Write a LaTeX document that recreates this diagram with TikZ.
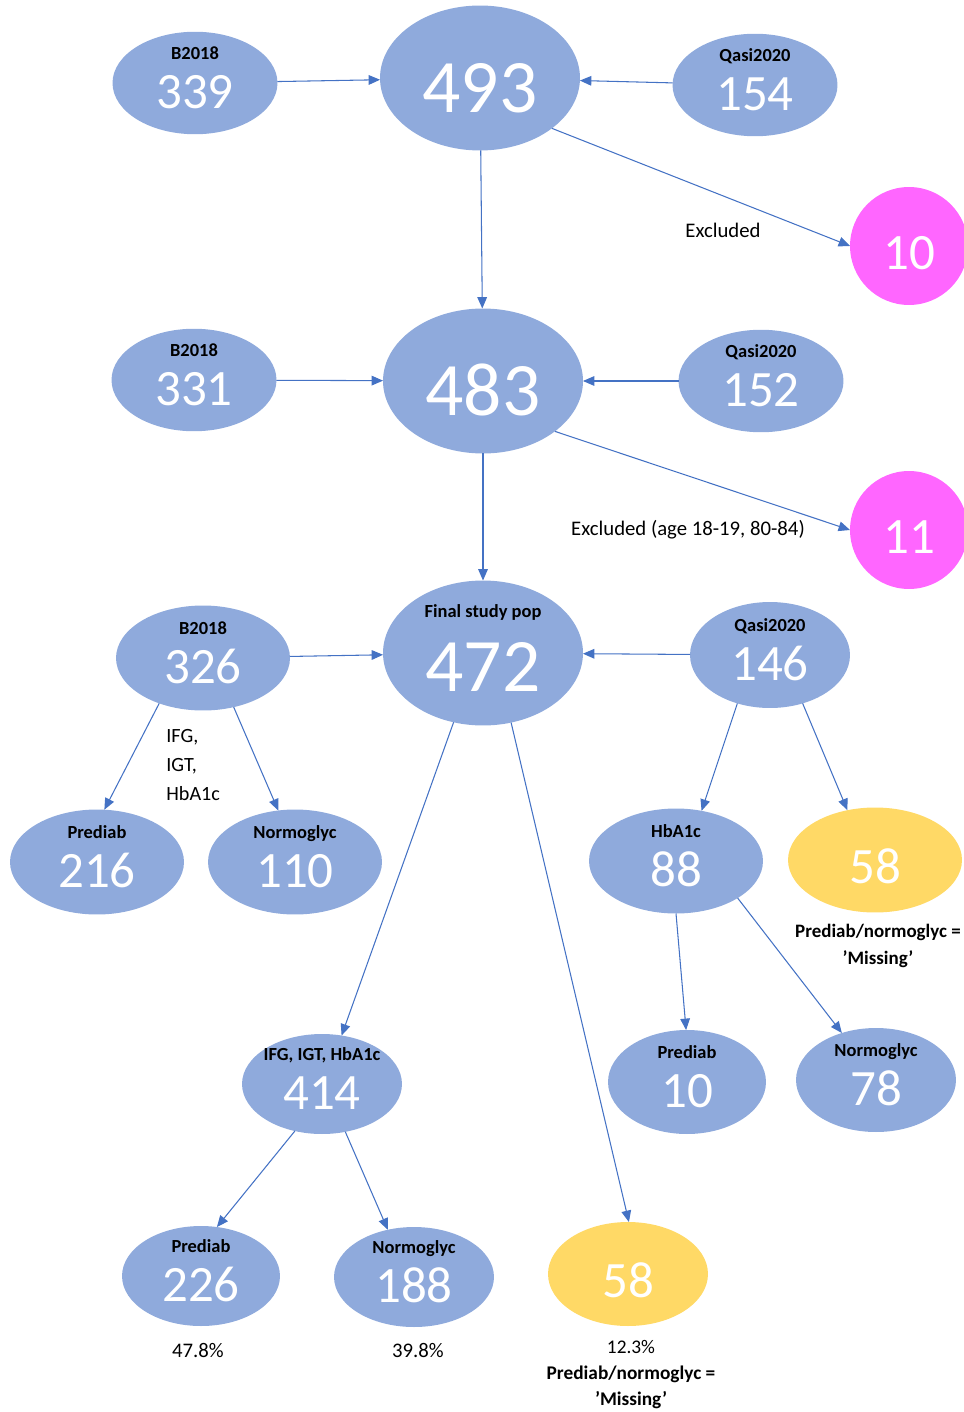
\documentclass[tikz,border=0pt]{standalone}
\usepackage{fontspec}
\setmainfont{Carlito}
\usetikzlibrary{positioning,arrows.meta,shapes.geometric}
\definecolor{popblue}{RGB}{143,170,220}
\definecolor{droppink}{RGB}{255,102,255}
\definecolor{missyellow}{RGB}{255,217,102}
\definecolor{flowblue}{RGB}{68,114,196}

% title line above the count inside an ellipse
\newcommand{\titled}[2]{{\fontsize{10.5}{12}\selectfont\bfseries\color{black}#1}\\[-1pt]#2\rule[-6pt]{0pt}{0pt}}
\newcommand{\solo}[1]{\rule{0pt}{0.92em}#1}

\tikzset{
  pop/.style={ellipse, fill=popblue, text=white, inner sep=-20pt, outer sep=0pt,
    align=center, minimum width=3.3cm, minimum height=2.05cm,
    font=\fontsize{29}{29}\selectfont},
  wide/.style={minimum width=3.48cm, minimum height=2.1cm},
  bigpop/.style={pop, minimum width=4cm, minimum height=2.9cm,
    font=\fontsize{43}{43}\selectfont},
  drop/.style={pop, fill=droppink, minimum width=2.36cm, minimum height=2.36cm},
  miss/.style={pop, fill=missyellow},
  flow/.style={draw=flowblue, line width=0.6pt, -{Triangle[length=6.5pt,width=5.5pt]}},
  note/.style={font=\fontsize{11.8}{14.8}\selectfont, inner sep=0pt},
  bnote/.style={font=\fontsize{10.8}{15.3}\selectfont\bfseries, align=center, inner sep=0pt}
}

\begin{document}
\begin{tikzpicture}[x=0.02cm,y=-0.02cm]
  \useasboundingbox (0,0) rectangle (963,1412);

  % first merge
  \node[pop] (n339) at (195,83) {\titled{B2018}{339}};
  \node[bigpop] (n493) at (480,78) {\solo{493}};
  \node[pop] (n154) at (755,85) {\titled{Qasi2020}{154}};
  \node[drop] (n10) at (909,246) {\solo{10}};
  \node[note] (ex1) at (723,230) {Excluded};

  % second merge
  \node[pop] (n331) at (194,380) {\titled{B2018}{331}};
  \node[bigpop] (n483) at (483,381) {\solo{483}};
  \node[pop] (n152) at (761,381) {\titled{Qasi2020}{152}};
  \node[drop] (n11) at (909,530) {\solo{11}};
  \node[note] (ex2) at (688,530) {Excluded (age 18-19, 80-84)};

  % final population
  \node[pop, wide] (n326) at (203,658) {\titled{B2018}{326}};
  \node[bigpop] (n472) at (483,653) {\titled{Final study pop}{472}};
  \node[pop, minimum width=3.2cm, minimum height=2.12cm] (n146) at (770,655) {\titled{Qasi2020}{146}};

  \node[pop, wide] (n216) at (97,862) {\titled{Prediab}{216}};
  \node[pop, wide] (n110) at (295,862) {\titled{Normoglyc}{110}};
  \node[note, align=left, anchor=west, font=\fontsize{11.5}{16.4}\selectfont] (crit) at (166,765) {IFG,\\IGT,\\HbA1c};

  \node[pop, wide] (n88) at (676,861) {\titled{HbA1c}{88}};
  \node[miss, wide] (n58a) at (875,860) {\solo{58}};
  \node[bnote] (miss1) at (878,946) {Prediab/normoglyc =\\'Missing'};

  \node[pop, minimum width=3.2cm, minimum height=2cm] (n414) at (322,1084) {\titled{IFG, IGT, HbA1c}{414}};
  \node[pop, minimum width=3.16cm, minimum height=2.08cm] (n10b) at (687,1082) {\titled{Prediab}{10}};
  \node[pop, minimum width=3.2cm, minimum height=2.08cm] (n78) at (876,1080) {\titled{Normoglyc}{78}};

  \node[pop, minimum width=3.16cm, minimum height=2cm] (n226) at (201,1276) {\titled{Prediab}{226}};
  \node[pop, minimum width=3.2cm, minimum height=2cm] (n188) at (414,1277) {\titled{Normoglyc}{188}};
  \node[miss, minimum width=3.2cm, minimum height=2.08cm] (n58b) at (628,1274) {\solo{58}};

  \node[note] (p226) at (198,1350) {47.8\%};
  \node[note] (p188) at (418,1350) {39.8\%};
  \node[note, align=center, font=\fontsize{11}{14.8}\selectfont] (p58) at (631,1375) {12.3\%\\\textbf{Prediab/normoglyc =}\\\textbf{'Missing'}};

  % arrows
  \draw[flow] (n339) -- (n493);
  \draw[flow] (n154) -- (n493);
  \draw[flow] (n493.-35) -- (n10.west);
  \draw[flow] (n493) -- (n483);
  \draw[flow] (n331) -- (n483);
  \draw[flow] (n152) -- (n483);
  \draw[flow] (n483.-35) -- (n11.west);
  \draw[flow] (n483) -- (n472);
  \draw[flow] (n326) -- (n472);
  \draw[flow] (n146) -- (n472);
  \draw[flow] (n326.226) -- (n216.82);
  \draw[flow] (n326.-58) -- (n110.108);
  \draw[flow] (n472.247) -- (n414.68);
  \draw[flow] (n472.-68) -- (n58b.89);
  \draw[flow] (n146.236) -- (n88.63);
  \draw[flow] (n146.-56) -- (n58a.119);
  \draw[flow] (n88.270) -- (n10b.91);
  \draw[flow] (n88.-31) -- (n78.126);
  \draw[flow] (n414.240) -- (n226.72);
  \draw[flow] (n414.-64) -- (n188.119);
\end{tikzpicture}
\end{document}
